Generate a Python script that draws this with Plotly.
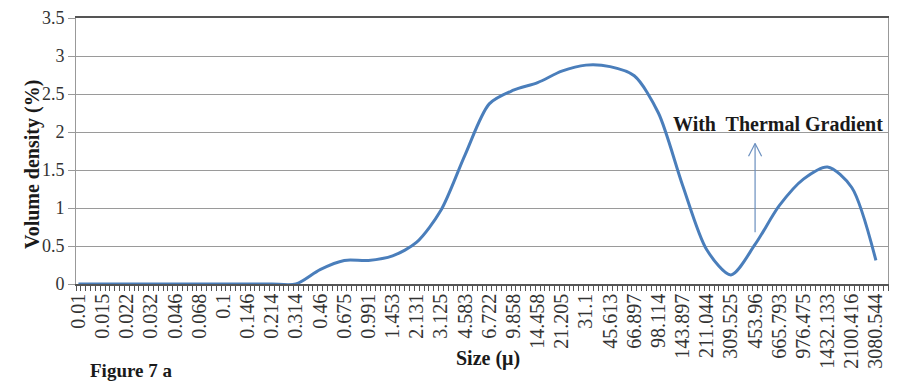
import plotly.graph_objects as go

categories = ["0.01", "0.015", "0.022", "0.032", "0.046", "0.068", "0.1", "0.146", "0.214",
              "0.314", "0.46", "0.675", "0.991", "1.453", "2.131", "3.125", "4.583", "6.722",
              "9.858", "14.458", "21.205", "31.1", "45.613", "66.897", "98.114", "143.897",
              "211.044", "309.525", "453.96", "665.793", "976.475", "1432.133", "2100.416",
              "3080.544"]
volume_density = [0, 0, 0, 0, 0, 0, 0, 0, 0, 0, 0.19, 0.31, 0.31, 0.37, 0.55, 0.97, 1.7,
                  2.37, 2.55, 2.65, 2.8, 2.88, 2.86, 2.74, 2.25, 1.3, 0.45, 0.12, 0.52, 1.03,
                  1.38, 1.54, 1.27, 0.31]
y_ticks = [0, 0.5, 1, 1.5, 2, 2.5, 3, 3.5]

xpos = list(range(len(categories)))
serif = "Liberation Serif"

fig = go.Figure()
fig.add_trace(go.Scatter(
    x=xpos, y=volume_density, mode="lines",
    line=dict(color="#4a7ebb", width=3, shape="spline", smoothing=0.8),
    showlegend=False, hoverinfo="skip"))

arrow_color = "#6a8fbf"
ax_x = xpos[categories.index("453.96")]
fig.add_shape(type="line", x0=ax_x, x1=ax_x, y0=0.68, y1=1.85, xref="x", yref="y",
              line=dict(color=arrow_color, width=1.2))
fig.add_shape(type="line", x0=ax_x - 0.27, x1=ax_x, y0=1.68, y1=1.85, xref="x", yref="y",
              line=dict(color=arrow_color, width=1.2))
fig.add_shape(type="line", x0=ax_x + 0.27, x1=ax_x, y0=1.68, y1=1.85, xref="x", yref="y",
              line=dict(color=arrow_color, width=1.2))

fig.add_annotation(text="<b>With  Thermal Gradient</b>", x=28.94, y=2.11, xref="x", yref="y",
                   showarrow=False, font=dict(family=serif, size=20, color="#1a1a1a"))
fig.add_annotation(text="<b>Figure 7 a</b>", x=0.0148, y=-0.325, xref="paper", yref="paper",
                   xanchor="left", yanchor="middle", showarrow=False,
                   font=dict(family=serif, size=19, color="#1a1a1a"))
fig.add_annotation(text="<b>Size (μ)</b>", x=0.507, y=-0.33, xref="paper", yref="paper",
                   showarrow=False, font=dict(family=serif, size=20, color="#1a1a1a"))
fig.add_annotation(text="<b>Volume density (%)</b>", x=-0.07, y=0.45, xref="paper", yref="paper",
                   textangle=-90, showarrow=False,
                   font=dict(family=serif, size=20, color="#1a1a1a"))

fig.update_layout(
    width=897, height=382,
    margin=dict(l=76, r=8, t=16, b=98),
    paper_bgcolor="white", plot_bgcolor="white",
    xaxis=dict(
        range=[-0.1, 33.5], tickmode="array", tickvals=xpos, ticktext=categories,
        tickangle=-90, ticks="", showgrid=False, zeroline=False,
        showline=True, linecolor="#555555", linewidth=1.5, mirror=True,
        tickfont=dict(family=serif, size=20, color="#333333"),
        minor=dict(ticks="outside", ticklen=5, tick0=-0.1, dtick=0.2,
                   tickcolor="#555555", tickwidth=1, showgrid=False),
    ),
    yaxis=dict(
        range=[0, 3.5], tickmode="array", tickvals=y_ticks,
        ticks="outside", ticklen=7, tickcolor="#999999",
        showgrid=True, gridcolor="#9a9a9a", gridwidth=1, zeroline=False,
        showline=True, linecolor="#999999", linewidth=1, mirror=True,
        tickfont=dict(family=serif, size=18, color="#333333"),
    ),
)

fig.write_html("out.html")
